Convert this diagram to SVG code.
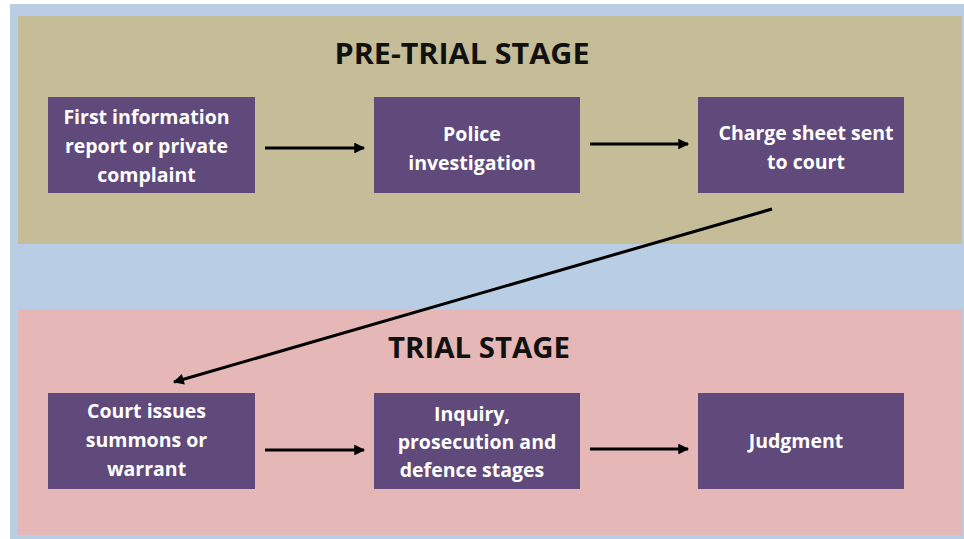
<svg xmlns="http://www.w3.org/2000/svg" width="964" height="539" viewBox="0 0 964 539">
<defs>
<style>
.box{fill:#5f4a7b}
.bt{font-family:"Open Sans","Liberation Sans",sans-serif;font-weight:bold;font-size:19.5px;fill:#ffffff;text-anchor:middle}
.title{font-family:"Open Sans","Liberation Sans",sans-serif;font-weight:bold;font-size:28px;fill:#111111;text-anchor:middle}
.conn{stroke:#000000;stroke-width:3;fill:none}
</style>
<marker id="ah" viewBox="0 0 10 10" refX="9" refY="5" markerWidth="4" markerHeight="3.6" markerUnits="strokeWidth" orient="auto">
<path d="M0,0 L10,5 L0,10 Z" fill="#000000"/>
</marker>
</defs>
<rect x="0" y="0" width="964" height="539" fill="#ffffff"/>
<rect x="10" y="4" width="954" height="535" fill="#b9cde4"/>
<g id="pretrial-panel">
<rect x="18" y="16" width="944" height="228" fill="#c5bd98"/>
<text class="title" x="462" y="64" textLength="255" lengthAdjust="spacingAndGlyphs">PRE-TRIAL STAGE</text>
</g>
<g id="trial-panel">
<rect x="18" y="310" width="944" height="225" fill="#e5b8b7"/>
<text class="title" x="479" y="358" textLength="182" lengthAdjust="spacingAndGlyphs">TRIAL STAGE</text>
</g>
<g id="n1">
<rect class="box" x="48" y="97" width="207" height="96"/>
<text class="bt" x="146.5" y="124">First information</text>
<text class="bt" x="146.5" y="153">report or private</text>
<text class="bt" x="146.5" y="182">complaint</text>
</g>
<g id="n2">
<rect class="box" x="374" y="97" width="206" height="96"/>
<text class="bt" x="472" y="141">Police</text>
<text class="bt" x="472" y="170">investigation</text>
</g>
<g id="n3">
<rect class="box" x="698" y="97" width="206" height="96"/>
<text class="bt" x="806" y="140">Charge sheet sent</text>
<text class="bt" x="806" y="169">to court</text>
</g>
<g id="n4">
<rect class="box" x="48" y="393" width="207" height="96"/>
<text class="bt" x="146.5" y="418">Court issues</text>
<text class="bt" x="146.5" y="447">summons or</text>
<text class="bt" x="146.5" y="476">warrant</text>
</g>
<g id="n5">
<rect class="box" x="374" y="393" width="206" height="96"/>
<text class="bt" x="472" y="421">Inquiry,</text>
<text class="bt" x="477" y="449">prosecution and</text>
<text class="bt" x="472" y="477">defence stages</text>
</g>
<g id="n6">
<rect class="box" x="698" y="393" width="206" height="96"/>
<text class="bt" x="796" y="448">Judgment</text>
</g>
<g id="connectors">
<line class="conn" x1="265" y1="148" x2="364" y2="148" marker-end="url(#ah)"/>
<line class="conn" x1="590" y1="144" x2="688" y2="144" marker-end="url(#ah)"/>
<line class="conn" x1="772" y1="209" x2="174" y2="382" marker-end="url(#ah)"/>
<line class="conn" x1="265" y1="450" x2="364" y2="450" marker-end="url(#ah)"/>
<line class="conn" x1="590" y1="449" x2="688" y2="449" marker-end="url(#ah)"/>
</g>
</svg>
